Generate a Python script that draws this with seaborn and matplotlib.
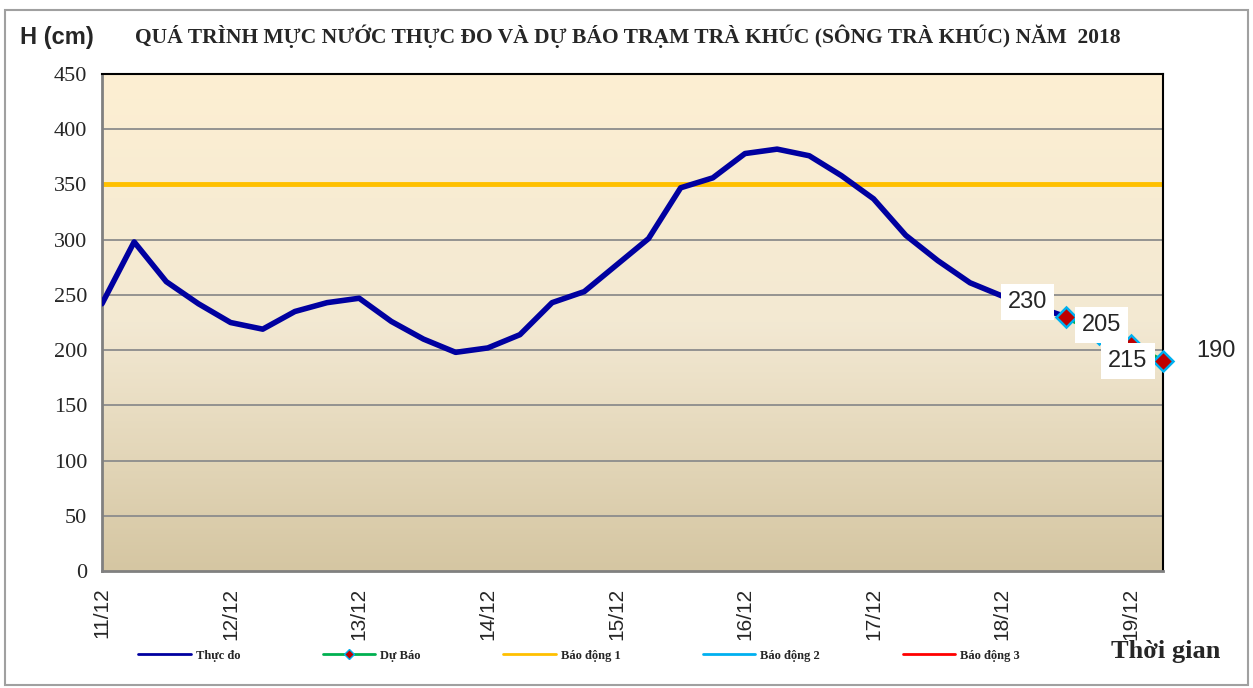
import matplotlib
matplotlib.use('Agg')
import matplotlib.pyplot as plt
import numpy as np
import pandas as pd
import seaborn as sns
from matplotlib.lines import Line2D
from matplotlib.patches import Rectangle

# 6-hourly steps from 11/12 00h
day_labels = ['11/12', '12/12', '13/12', '14/12', '15/12',
              '16/12', '17/12', '18/12', '19/12']
obs_level = [242, 298, 262, 242, 225, 219, 235, 243, 247, 226,
             210, 198, 202, 214, 243, 253, 277, 301, 347, 356,
             378, 382, 376, 358, 337, 304, 281, 261, 249, 240, 230]
fc_level = [230, 215, 205, 190]
alarm_levels = [350, 500, 650]  # BĐ1, BĐ2, BĐ3
alarm_names = ['Báo động 1', 'Báo động 2', 'Báo động 3']
alarm_colors = ['#FFC000', '#00B0F0', '#FF0000']

obs_df = pd.DataFrame({'step': np.arange(len(obs_level)), 'h': obs_level})
fc_start = len(obs_level) - 1
fc_df = pd.DataFrame({'step': np.arange(fc_start, fc_start + len(fc_level)),
                      'h': fc_level})

sns.set_style('white')
plt.rcParams['font.family'] = ['Liberation Serif', 'DejaVu Serif']

fig = plt.figure(figsize=(12.53, 6.88), dpi=100)
ax = fig.add_axes([0.0814, 0.170, 0.8467, 0.7224])

# background gradient, light at the top
grad = np.linspace(0, 1, 256).reshape(-1, 1)
cmap = matplotlib.colors.LinearSegmentedColormap.from_list(
    'bg', ['#FDEFD2', '#F3E9D3', '#D5C6A2'])
ax.imshow(grad, aspect='auto', cmap=cmap, extent=[0, 1, 0, 1],
          transform=ax.transAxes, zorder=0)

for y in range(50, 450, 50):
    ax.axhline(y, color='#8C8C8C', lw=1.3, zorder=1)

for lev, col in zip(alarm_levels, alarm_colors):
    ax.axhline(lev, color=col, lw=3.5, zorder=2)

sns.lineplot(data=obs_df, x='step', y='h', color='#0000A0', lw=4,
             solid_joinstyle='round', solid_capstyle='round', ax=ax, zorder=3)
sns.lineplot(data=fc_df, x='step', y='h', color='#00B050', lw=3.5,
             marker='D', markersize=10, markerfacecolor='#C00000',
             markeredgecolor='#00B0F0', markeredgewidth=1.8, clip_on=False,
             ax=ax, zorder=4)

# value labels (placed as in the original)
offsets = [(-28, 11), (21, -20), (-21, 14), (38, 7)]
for (s, v), off in zip(zip(fc_df['step'], fc_df['h']), offsets):
    ax.annotate(str(v), (s, v), textcoords='offset points', xytext=off,
                ha='center', va='center', fontsize=17, family='Liberation Sans',
                bbox=dict(boxstyle='square,pad=0.3', fc='white', ec='none'),
                zorder=6, annotation_clip=False)

ax.set_xlim(0, 33)
ax.set_ylim(0, 450)
ax.set_yticks(range(0, 451, 50))
ax.tick_params(axis='y', labelsize=16, length=7, width=1.2, color='#808080',
               direction='out')
ax.set_xticks(np.arange(0, 34, 4))
ax.set_xticklabels(day_labels, rotation=90, fontsize=15, family='Liberation Sans')
ax.set_xticks(np.arange(0, 34, 1), minor=True)
ax.tick_params(axis='x', which='both', direction='in', length=5,
               color='#808080', pad=12)
ax.set_xlabel('')
ax.set_ylabel('')

for side in ['left', 'bottom']:
    ax.spines[side].set_color('#808080')
    ax.spines[side].set_linewidth(2)
for side in ['top', 'right']:
    ax.spines[side].set_color('black')
    ax.spines[side].set_linewidth(1.5)

fig.text(0.0455, 0.945, 'H (cm)', fontsize=17, fontweight='bold',
         family='Liberation Sans', ha='center', va='center')
fig.text(0.501, 0.948,
         'QUÁ TRÌNH MỰC NƯỚC THỰC ĐO VÀ DỰ BÁO TRẠM TRÀ KHÚC (SÔNG TRÀ KHÚC) NĂM  2018',
         fontsize=15.5, fontweight='bold', ha='center', va='center')
fig.text(0.93, 0.053, 'Thời gian', fontsize=19, fontweight='bold',
         ha='center', va='center')

handles = [Line2D([], [], color='#0000A0', lw=2),
           Line2D([], [], color='#00B050', lw=2, marker='D', markersize=5,
                  markerfacecolor='#C00000', markeredgecolor='#00B0F0')]
handles += [Line2D([], [], color=c, lw=2) for c in alarm_colors]
labels = ['Thực đo', 'Dự Báo'] + alarm_names
fig.legend(handles, labels, loc='center', bbox_to_anchor=(0.462, 0.047),
           ncol=5, frameon=False, handlelength=4.2, handletextpad=0.4,
           columnspacing=6.6, prop={'weight': 'bold', 'size': 9})

fig.patches.append(Rectangle((0.004, 0.004), 0.992, 0.982, transform=fig.transFigure,
                             fill=False, ec='#A0A0A0', lw=1.5))

fig.savefig('out.png', dpi=100)
